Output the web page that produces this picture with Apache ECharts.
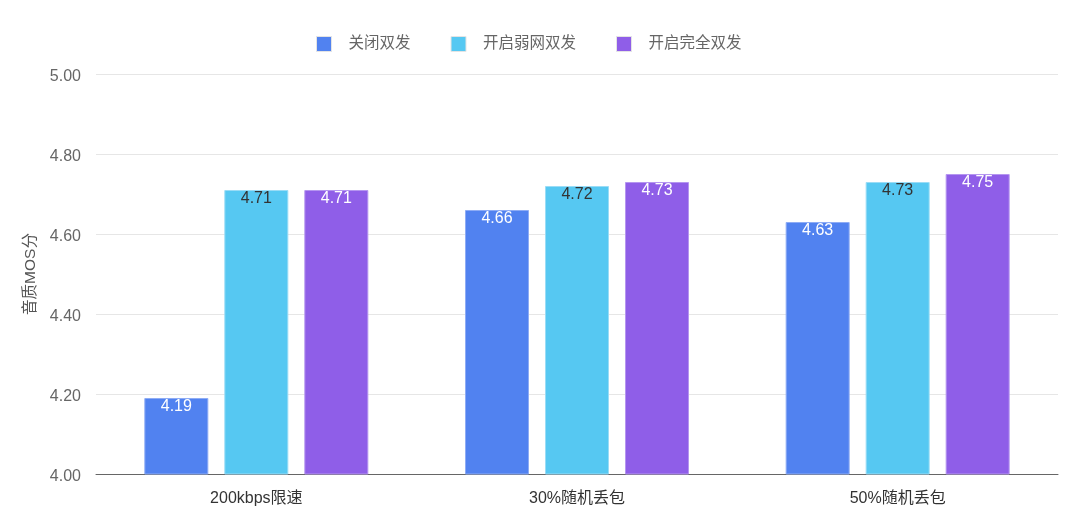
<!DOCTYPE html>
<html><head><meta charset="utf-8">
<script src="https://cdn.jsdelivr.net/npm/echarts@6/dist/echarts.min.js"></script>
<style>html,body{margin:0;padding:0;background:#fff}#c{width:1080px;height:527px}</style>
</head><body><div id="c"></div>
<script>
const categories = ['200kbps限速', '30%随机丢包', '50%随机丢包'];
const seriesNames = ['关闭双发', '开启弱网双发', '开启完全双发'];
const offValues = [4.19, 4.66, 4.63];
const weakValues = [4.71, 4.72, 4.73];
const fullValues = [4.71, 4.73, 4.75];
const yTicks = { min: 4.0, max: 5.0, interval: 0.2 };

const colors = ['#5182F0', '#56C8F2', '#8F5EE8'];
const borders = ['#8eacf5', '#9adcf6', '#b596f0'];
const labelColors = ['#ffffff', '#333333', '#ffffff'];
const font = '"Liberation Sans", "Noto Sans CJK SC", sans-serif';

const chart = echarts.init(document.getElementById('c'));
const datas = [offValues, weakValues, fullValues];
chart.setOption({
  animation: false,
  textStyle: { fontFamily: font },
  legend: {
    top: 31, left: 311, itemWidth: 15, itemHeight: 15, itemGap: 40,
    icon: 'rect',
    itemStyle: { borderColor: '#e4e4e4', borderWidth: 1 },
    textStyle: { color: '#666', fontSize: 15.5, padding: [0, 0, 0, 12], fontFamily: font },
    data: seriesNames
  },
  grid: { left: 96, right: 22, top: 74, bottom: 53 },
  xAxis: {
    type: 'category', data: categories,
    axisTick: { show: false },
    axisLine: { lineStyle: { color: '#666', width: 1 } },
    axisLabel: { color: '#333', fontSize: 16, margin: 17 }
  },
  yAxis: {
    type: 'value', min: yTicks.min, max: yTicks.max, interval: yTicks.interval,
    name: '音质MOS分', nameLocation: 'middle', nameGap: 57, nameRotate: 90,
    nameTextStyle: { color: '#555', fontSize: 15.5 },
    axisLine: { show: false }, axisTick: { show: false },
    axisLabel: { color: '#666', fontSize: 16, margin: 15,
      formatter: v => '{a|' + v.toFixed(2) + '}',
      rich: { a: { color: '#666', fontSize: 16, padding: [5, 0, 0, 0] } } },
    splitLine: { lineStyle: { color: '#e6e6e6' } }
  },
  series: seriesNames.map((n, i) => ({
    name: n, type: 'bar', data: datas[i],
    barWidth: 64, barGap: '25%',
    itemStyle: { color: colors[i], borderColor: borders[i], borderWidth: 1 },
    label: { show: true, position: 'insideTop', distance: 1, color: labelColors[i], fontSize: 16,
      formatter: p => p.value.toFixed(2) }
  }))
});
</script></body></html>
